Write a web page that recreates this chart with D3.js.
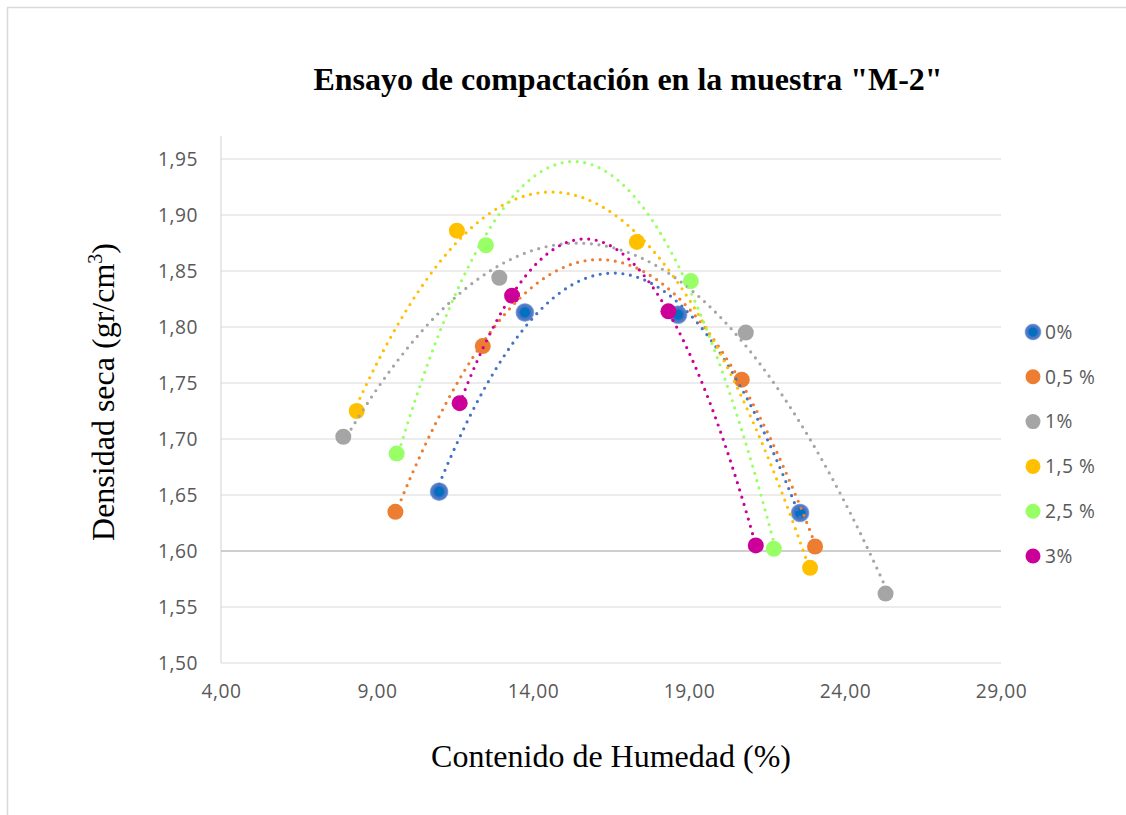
<!DOCTYPE html>
<html>
<head>
<meta charset="utf-8">
<script src="https://cdn.jsdelivr.net/npm/d3@7"></script>
<style>
  html, body { margin: 0; padding: 0; background: #fff; }
  svg { display: block; }
</style>
</head>
<body>
<svg id="chart" width="1126" height="815"></svg>
<script>
// Moisture content (%) and dry density (gr/cm3) for each additive dose
const seriesNames = ["0%", "0,5 %", "1%", "1,5 %", "2,5 %", "3%"];
const humedad0   = [10.99, 13.74, 18.65, 22.56];
const densidad0  = [1.653, 1.813, 1.811, 1.634];
const humedad05  = [9.59, 12.39, 20.69, 23.04];
const densidad05 = [1.635, 1.783, 1.753, 1.604];
const humedad1   = [7.92, 12.92, 20.82, 25.30];
const densidad1  = [1.702, 1.844, 1.795, 1.562];
const humedad15  = [8.35, 11.56, 17.33, 22.88];
const densidad15 = [1.725, 1.886, 1.876, 1.585];
const humedad25  = [9.63, 12.49, 19.06, 21.72];
const densidad25 = [1.687, 1.873, 1.841, 1.602];
const humedad3   = [11.65, 13.33, 18.34, 21.14];
const densidad3  = [1.732, 1.828, 1.814, 1.605];

const xTicks = [4, 9, 14, 19, 24, 29];
const yTicks = [1.50, 1.55, 1.60, 1.65, 1.70, 1.75, 1.80, 1.85, 1.90, 1.95];

const colors = ["#4472c4", "#ed7d31", "#a5a5a5", "#ffc000", "#99ff66", "#cc0099"];

const series = [
  [humedad0, densidad0], [humedad05, densidad05], [humedad1, densidad1],
  [humedad15, densidad15], [humedad25, densidad25], [humedad3, densidad3]
].map(([xs, ys], i) => ({
  name: seriesNames[i],
  color: colors[i],
  points: xs.map((x, j) => ({ x, y: ys[j] }))
}));

const svg = d3.select("#chart");
const fmt = v => d3.format(".2f")(v).replace(".", ",");

// Outer chart frame
svg.append("rect")
  .attr("x", 7.5).attr("y", 7.5)
  .attr("width", 1200).attr("height", 900)
  .attr("fill", "#fff").attr("stroke", "#d9d9d9").attr("stroke-width", 1.5);

const x = d3.scaleLinear().domain([4, 29]).range([221, 1001]);
const y = d3.scaleLinear().domain([1.50, 1.95]).range([663, 159]);

// Horizontal gridlines
svg.append("g").selectAll("line")
  .data(yTicks.filter(t => Math.abs(t - 1.60) > 1e-9))
  .join("line")
  .attr("x1", x(4)).attr("x2", x(29))
  .attr("y1", d => y(d)).attr("y2", d => y(d))
  .attr("stroke", "#d9d9d9").attr("stroke-width", 1);

// Vertical axis line
svg.append("line")
  .attr("x1", x(4)).attr("x2", x(4))
  .attr("y1", 136).attr("y2", y(1.50))
  .attr("stroke", "#d9d9d9").attr("stroke-width", 1.2);

// Horizontal axis crosses at 1,60
svg.append("line")
  .attr("x1", x(4)).attr("x2", x(29))
  .attr("y1", y(1.60)).attr("y2", y(1.60))
  .attr("stroke", "#bfbfbf").attr("stroke-width", 1.6);

// Tick labels
const tickFont = "'Open Sans', sans-serif";
const tickSize = 19.2;
const yAxis = d3.axisLeft(y).tickValues(yTicks).tickFormat(fmt).tickSize(0).tickPadding(0);
const gy = svg.append("g").attr("transform", "translate(198,0)").call(yAxis);
gy.select(".domain").remove();
gy.selectAll("text")
  .attr("font-family", tickFont).attr("font-size", tickSize)
  .attr("letter-spacing", 0.5).attr("fill", "#595959");

const xAxis = d3.axisBottom(x).tickValues(xTicks).tickFormat(fmt).tickSize(0).tickPadding(0);
const gx = svg.append("g").attr("transform", "translate(0,684)").call(xAxis);
gx.select(".domain").remove();
gx.selectAll("text")
  .attr("font-family", tickFont).attr("font-size", tickSize)
  .attr("letter-spacing", 0.5).attr("fill", "#595959");

// Least-squares quadratic trend for each series
function quadFit(pts) {
  let s0 = 0, s1 = 0, s2 = 0, s3 = 0, s4 = 0, t0 = 0, t1 = 0, t2 = 0;
  pts.forEach(p => {
    const x1 = p.x, x2 = x1 * x1;
    s0 += 1; s1 += x1; s2 += x2; s3 += x2 * x1; s4 += x2 * x2;
    t0 += p.y; t1 += p.y * x1; t2 += p.y * x2;
  });
  const M = [[s4, s3, s2, t2], [s3, s2, s1, t1], [s2, s1, s0, t0]];
  for (let i = 0; i < 3; i++) {
    for (let k = i + 1; k < 3; k++) {
      const f = M[k][i] / M[i][i];
      for (let j = i; j < 4; j++) M[k][j] -= f * M[i][j];
    }
  }
  const c = [0, 0, 0];
  for (let i = 2; i >= 0; i--) {
    let s = M[i][3];
    for (let j = i + 1; j < 3; j++) s -= M[i][j] * c[j];
    c[i] = s / M[i][i];
  }
  return v => c[0] * v * v + c[1] * v + c[2];
}

// Markers
const gDefs = svg.append("defs");
const grad = gDefs.append("radialGradient").attr("id", "blueGlow");
grad.append("stop").attr("offset", "0%").attr("stop-color", "#0070c0");
grad.append("stop").attr("offset", "45%").attr("stop-color", "#0070c0");
grad.append("stop").attr("offset", "60%").attr("stop-color", "#4472c4");
grad.append("stop").attr("offset", "85%").attr("stop-color", "#4472c4").attr("stop-opacity", 0.9);
grad.append("stop").attr("offset", "100%").attr("stop-color", "#4472c4").attr("stop-opacity", 0.35);

const gMarks = svg.append("g");
series.forEach((s, i) => {
  gMarks.append("g").selectAll("circle")
    .data(s.points)
    .join("circle")
    .attr("cx", d => x(d.x)).attr("cy", d => y(d.y))
    .attr("r", i === 0 ? 9.5 : 8)
    .attr("fill", i === 0 ? "url(#blueGlow)" : s.color);
});

// Dotted trendlines over the markers
const line = d3.line().x(d => x(d[0])).y(d => y(d[1]));
series.forEach(s => {
  const f = quadFit(s.points);
  const [x0, x1] = d3.extent(s.points, p => p.x);
  const pts = d3.range(0, 201).map(k => {
    const v = x0 + (x1 - x0) * k / 200;
    return [v, f(v)];
  });
  svg.append("path")
    .attr("d", line(pts))
    .attr("fill", "none")
    .attr("stroke", s.color)
    .attr("stroke-width", 3.2)
    .attr("stroke-linecap", "round")
    .attr("stroke-dasharray", "0 7.6");
});

// Legend
const legend = svg.append("g").attr("transform", "translate(1033,332)");
series.forEach((s, i) => {
  const row = legend.append("g").attr("transform", `translate(0,${i * 44.8})`);
  row.append("circle").attr("r", i === 0 ? 8.5 : 7.5)
    .attr("fill", i === 0 ? "url(#blueGlow)" : s.color);
  row.append("text").attr("x", 12).attr("dy", "0.35em")
    .attr("font-family", tickFont).attr("font-size", tickSize)
    .attr("letter-spacing", 0.5).attr("fill", "#595959")
    .text(s.name);
});

// Titles
const serif = "'Liberation Serif', 'Times New Roman', serif";
svg.append("text")
  .attr("x", 628).attr("y", 90)
  .attr("text-anchor", "middle")
  .attr("font-family", serif)
  .attr("font-weight", "bold").attr("font-size", 32)
  .attr("fill", "#000")
  .text("Ensayo de compactación en la muestra \"M-2\"");

svg.append("text")
  .attr("x", 611).attr("y", 767)
  .attr("text-anchor", "middle")
  .attr("font-family", serif)
  .attr("font-size", 32).attr("fill", "#000")
  .text("Contenido de Humedad (%)");

const yTitle = svg.append("text")
  .attr("transform", "translate(114,392) rotate(-90)")
  .attr("text-anchor", "middle")
  .attr("font-family", serif)
  .attr("font-size", 32).attr("fill", "#000");
yTitle.append("tspan").text("Densidad seca (gr/cm");
yTitle.append("tspan").attr("font-size", 20).attr("dy", -12).text("3");
yTitle.append("tspan").attr("dy", 12).text(")");
</script>
</body>
</html>
